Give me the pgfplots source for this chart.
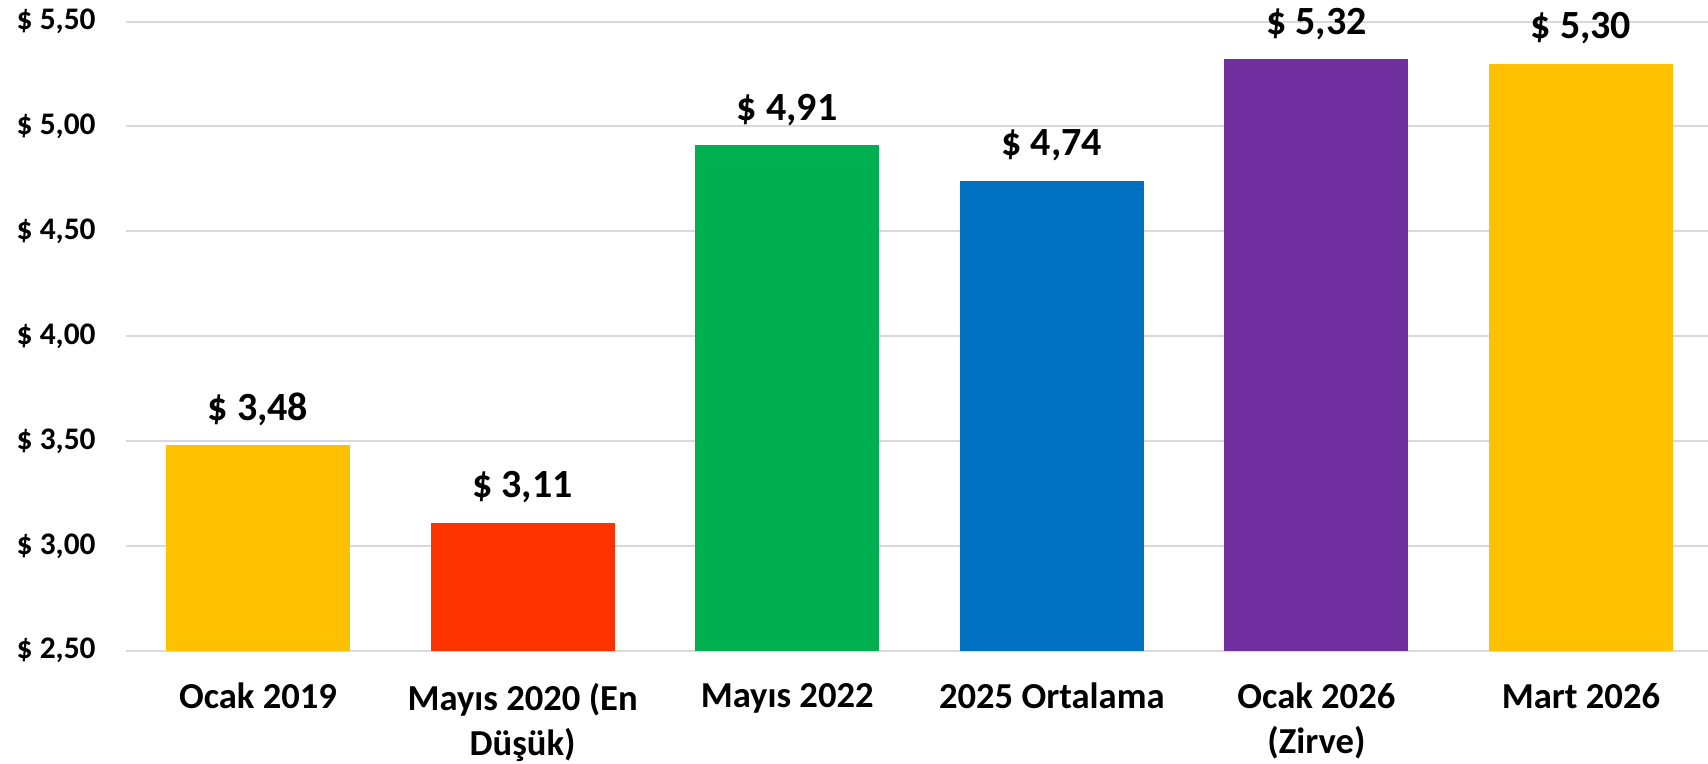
\documentclass[border=0pt]{standalone}
\usepackage{fontspec}
\setmainfont{Carlito}
\usepackage{pgfplots}
\pgfplotsset{compat=1.18}

\definecolor{cgold}{HTML}{FFC000}
\definecolor{cred}{HTML}{FF3300}
\definecolor{cgreen}{HTML}{00B050}
\definecolor{cblue}{HTML}{0070C0}
\definecolor{cpurple}{HTML}{7030A0}
\definecolor{cgrid}{HTML}{D9D9D9}

\begin{document}
\begin{tikzpicture}
\begin{axis}[
  ybar, bar width=92pt, bar shift=0pt,
  scale only axis, width=791.15pt, height=314.55pt,
  xmin=-0.5, xmax=5.48, ymin=2.5, ymax=5.5,
  axis line style={draw=none}, major tick length=0pt,
  ymajorgrids, grid style={cgrid, line width=1pt},
  ytick={2.5,3,3.5,4,4.5,5,5.5},
  yticklabels={{\$ 2,50},{\$ 3,00},{\$ 3,50},{\$ 4,00},{\$ 4,50},{\$ 5,00},{\$ 5,50}},
  yticklabel style={font=\fontsize{15.7}{18}\selectfont\bfseries, anchor=east, inner sep=0pt, xshift=-14.85pt},
  xtick={0,1,2,3,4,5},
  xticklabels={Ocak 2019,{Mayıs 2020 (En\\Düşük)},Mayıs 2022,2025 Ortalama,{Ocak 2026\\(Zirve)},Mart 2026},
  xticklabel style={font=\fontsize{18.3}{22.5}\selectfont\bfseries, align=center, anchor=north, inner sep=0pt, yshift=-16pt},
  /pgf/number format/assume math mode=true,
  nodes near coords={\$ \pgfmathprintnumber[fixed,fixed zerofill,precision=2,use comma]{\pgfplotspointmeta}},
  every node near coord/.append style={font=\fontsize{20}{24}\selectfont\bfseries, anchor=base, inner sep=0pt, yshift=12.5pt, text=black},
]
\coordinate (A) at (rel axis cs:0,0);
\addplot[fill=cgold, draw=none] coordinates {(0,3.48)};
\addplot[fill=cred, draw=none] coordinates {(1,3.11)};
\addplot[fill=cgreen, draw=none] coordinates {(2,4.91)};
\addplot[fill=cblue, draw=none] coordinates {(3,4.74)};
\addplot[fill=cpurple, draw=none] coordinates {(4,5.32)};
\addplot[fill=cgold, draw=none] coordinates {(5,5.30)};
\end{axis}
\pgfresetboundingbox
\path[use as bounding box] ([shift={(-62.85pt,-56.65pt)}]A) rectangle ([shift={(791.15pt,325.35pt)}]A);
\end{tikzpicture}
\end{document}
